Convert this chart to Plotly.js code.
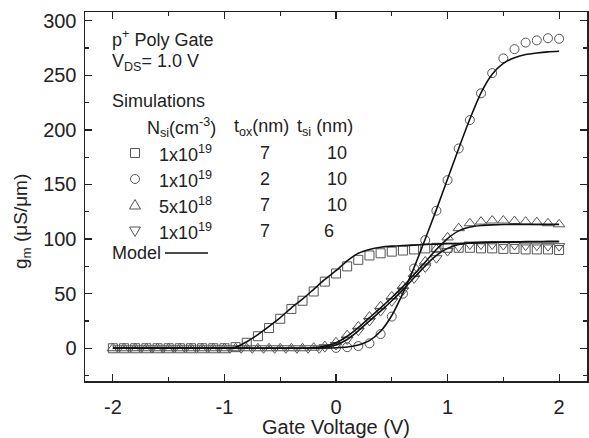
<!DOCTYPE html>
<html>
<head>
<meta charset="utf-8">
<script src="https://cdn.plot.ly/plotly-3.0.1.min.js"></script>
<style>html,body{margin:0;padding:0;background:#fff;}#chart{width:589px;height:438px;}</style>
</head>
<body>
<div id="chart"></div>
<script>
// ---- Data (Gate voltage in V, gm in uS/um) ----
const vGrid = [-2.0,-1.9,-1.8,-1.7,-1.6,-1.5,-1.4,-1.3,-1.2,-1.1,-1.0,-0.9,-0.8,-0.7,-0.6,-0.5,-0.4,-0.3,-0.2,-0.1,0.0,0.1,0.2,0.3,0.4,0.5,0.6,0.7,0.8,0.9,1.0,1.1,1.2,1.3,1.4,1.5,1.6,1.7,1.8,1.9,2.0];

// Simulation: Nsi=1e19, tox=7, tsi=10 (squares)
const simSquareV = vGrid;
const simSquare = [0,0,0,0,0,0,0,0,0,0,0,1,5,11,18.5,27,36,43.5,52,61,68.5,75,81,85,87,88.5,89.5,90.5,91.5,92,92,92,92,91.5,91.5,91,91,90.5,90.5,90.5,90];

// Simulation: Nsi=1e19, tox=2, tsi=10 (circles)
const simCircleV = [0.0,0.1,0.2,0.3,0.4,0.5,0.6,0.7,0.8,0.9,1.0,1.1,1.2,1.3,1.4,1.5,1.6,1.7,1.8,1.9,2.0];
const simCircle = [0.3,1,2,4.5,13,29,50,73,99,126,154,183,209,233.5,252,265.5,274,280,282,284,283.5];

// Simulation: Nsi=5e18, tox=7, tsi=10 (triangle up)
const simTriUpV = vGrid;
const simTriUp = [0,0,0,0,0,0,0,0,0,0,0,0,0,0,0,0,0,0,0.5,2,5.5,12,20,29,38.5,47.5,57,68,79.5,91,101.5,110,114.5,116,117,117,116.5,116,115.5,114.5,113.5];

// Simulation: Nsi=1e19, tox=7, tsi=6 (triangle down)
const simTriDownV = [-1.95,-1.85,-1.75,-1.65,-1.55,-1.45,-1.35,-1.25,-1.15,-1.05,-0.95,-0.85,-0.75,-0.65,-0.55,-0.45,-0.35,-0.25,-0.15,-0.1,0.0,0.1,0.2,0.3,0.4,0.5,0.6,0.7,0.8,0.9,1.0,1.1,1.2,1.3,1.4,1.5,1.6,1.7,1.8,1.9,2.0];
const simTriDown = [0,0,0,0,0,0,0,0,0,0,0,0,0,0,0,0,0,0,0,1,3,8,16,25,34,43,53,64,74,82.5,89,93,95,95,95,94.5,94.5,94,94,93.5,93.5];

// Model curves
const modelV = vGrid;
const modelSquare = [0,0,0,0,0,0,0,0,0,0,0,1,6,12.5,20,28,37,45,54,63,71,80,87,90.5,92.5,93.5,94,94.5,95,95.4,95.8,96,96.4,96.7,97,97.2,97.5,97.7,97.8,97.9,98];
const modelCircle = [0,0,0,0,0,0,0,0,0,0,0,0,0,0,0,0,0,0,0,0.2,0.5,1.2,3,7,15.5,30,50.5,74,100,127,155,183,210,234,251,261,266,269,270.5,271.5,272];
const modelTriUp = [0,0,0,0,0,0,0,0,0,0,0,0,0,0,0,0,0,0,0.5,2,5,11,19,28,37,46.5,56.5,67.5,79,90.5,100.5,107.5,111,112.5,113,113.3,113.5,113.5,113.5,113.5,113.5];
const modelTriDown = [0,0,0,0,0,0,0,0,0,0,0,0,0,0,0,0,0,0,0,1,3,8,16,25,34,43.5,53.5,64.5,75.5,85,91.5,95,96.5,97,97.2,97.3,97.4,97.5,97.5,97.5,97.5];

// Axis ticks
const xTicks = [-2,-1,0,1,2];
const xTickText = ['-2','-1','0','1','2'];
const yTicks = [0,50,100,150,200,250,300];
const yTickText = ['0','50','100','150','200','250','300'];

// Legend table text
const legendRows = [
  {sym:'square', n:'1x10<sup>19</sup>', tox:'7', tsi:'10'},
  {sym:'circle', n:'1x10<sup>19</sup>', tox:'2', tsi:'10'},
  {sym:'triup', n:'5x10<sup>18</sup>', tox:'7', tsi:'10'},
  {sym:'tridown', n:'1x10<sup>19</sup>', tox:'7', tsi:'6'}
];

// ---- Layout helpers (pixel -> paper) ----
const W = 589, H = 438;
const M = {l:85, r:2, t:12, b:57};
const PW = W - M.l - M.r, PH = H - M.t - M.b;
const px = x => (x - M.l) / PW;
const py = y => (H - M.b - y) / PH;

const mkColor = '#555';
const FONT = 'Liberation Sans, Arial, Helvetica, sans-serif';
const txtColor = '#222';
const LFS = 18;   // legend text size
const TFS = 20;   // tick / title size

function markerTrace(x, y, symbol, size) {
  return {x:x, y:y, type:'scatter', mode:'markers', hoverinfo:'skip', showlegend:false,
    marker:{symbol:symbol, size:size, color:mkColor, line:{width:1, color:mkColor}}};
}
function lineTrace(x, y) {
  return {x:x, y:y, type:'scatter', mode:'lines', hoverinfo:'skip', showlegend:false,
    line:{color:'#111', width:1.6, shape:'spline', smoothing:0.6}};
}

const data = [
  markerTrace(simSquareV, simSquare, 'square-open', 9),
  markerTrace(simCircleV, simCircle, 'circle-open', 9),
  markerTrace(simTriUpV, simTriUp, 'triangle-up-open', 10),
  markerTrace(simTriDownV, simTriDown, 'triangle-down-open', 10),
  lineTrace(modelV, modelSquare),
  lineTrace(modelV, modelCircle),
  lineTrace(modelV, modelTriUp),
  lineTrace(modelV, modelTriDown)
];

const ann = [];
function addText(text, x, y, anchor) {
  ann.push({text:text, xref:'paper', yref:'paper', x:px(x), y:py(y), xanchor:anchor||'left', yanchor:'middle',
    showarrow:false, font:{family:FONT, size:LFS, color:txtColor}});
}
addText('p<sup>+</sup> Poly Gate', 110, 38);
addText('V<sub>DS</sub>= 1.0 V', 110, 63);
addText('Simulations', 110, 101);
addText('N<sub>si</sub>(cm<sup>-3</sup>)', 145, 127);
addText('t<sub>ox</sub>(nm)', 232, 127);
addText('t<sub>si</sub> (nm)', 295, 127);
const rowY = [153, 179, 205, 231];
const shapes = [];
legendRows.forEach((r, i) => {
  const y = rowY[i];
  addText(r.n, 157, y);
  addText(r.tox, 265, y, 'center');
  addText(r.tsi, r.tsi.length > 1 ? 337 : 329, y, 'center');
  const base = {xref:'paper', yref:'paper', xsizemode:'pixel', ysizemode:'pixel', xanchor:px(135), yanchor:py(y),
    line:{color:mkColor, width:1}, fillcolor:'rgba(0,0,0,0)'};
  if (r.sym === 'square') shapes.push(Object.assign({type:'rect', x0:-4.5, x1:4.5, y0:-4.5, y1:4.5}, base));
  if (r.sym === 'circle') shapes.push(Object.assign({type:'circle', x0:-4.5, x1:4.5, y0:-4.5, y1:4.5}, base));
  if (r.sym === 'triup') shapes.push(Object.assign({type:'path', path:'M-5.5,-4 L5.5,-4 L0,5.5 Z'}, base));
  if (r.sym === 'tridown') shapes.push(Object.assign({type:'path', path:'M-5.5,4 L5.5,4 L0,-5.5 Z'}, base));
});
addText('Model', 110, 253);
shapes.push({type:'line', xref:'paper', yref:'paper', x0:px(165), x1:px(208), y0:py(253), y1:py(253), line:{color:'#111', width:1.6}});

// y-axis title as annotation
ann.push({text:'g<sub>m</sub> (μS/μm)', xref:'paper', yref:'paper', x:px(22), y:py(222), xanchor:'center', yanchor:'middle',
  textangle:-90, showarrow:false, font:{family:FONT, size:19, color:txtColor}});

const axisCommon = {
  showline:true, linecolor:'#222', linewidth:1.5, mirror:'allticks', ticks:'inside', ticklen:7, tickwidth:1.2, tickcolor:'#222',
  showgrid:false, zeroline:false, tickfont:{family:FONT, size:TFS, color:txtColor}, tickmode:'array'
};

const layout = {
  width:W, height:H, margin:M, paper_bgcolor:'#fff', plot_bgcolor:'#fff', showlegend:false,
  xaxis:Object.assign({}, axisCommon, {range:[-2.25,2.25], tickvals:xTicks, ticktext:xTickText, ticklabelstandoff:7,
    minor:{ticks:'inside', ticklen:4, tickwidth:1.2, tickcolor:'#222', dtick:0.5, tick0:0},
    title:{text:'Gate Voltage (V)', font:{family:FONT, size:TFS, color:txtColor}, standoff:2}}),
  yaxis:Object.assign({}, axisCommon, {range:[-30,308], tickvals:yTicks, ticktext:yTickText, ticklabelstandoff:3,
    minor:{ticks:'inside', ticklen:4, tickwidth:1.2, tickcolor:'#222', dtick:25, tick0:0}}),
  annotations:ann, shapes:shapes
};

Plotly.newPlot('chart', data, layout, {displayModeBar:false, staticPlot:true});
</script>
</body>
</html>
